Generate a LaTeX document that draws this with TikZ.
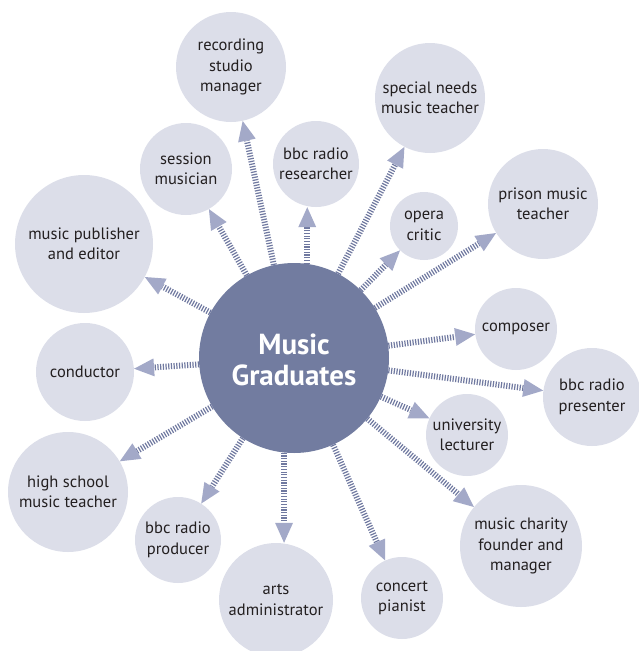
\documentclass[tikz,border=0pt]{standalone}
\usepackage{fontspec}
\setmainfont{PT Sans}
\usetikzlibrary{arrows.meta}

\definecolor{hubcol}{HTML}{727CA0}
\definecolor{bubble}{HTML}{DCDEE9}
\definecolor{stripe}{HTML}{7079A0}
\definecolor{tipcol}{HTML}{A3A9C8}
\definecolor{ink}{HTML}{231F20}

\begin{document}
\begin{tikzpicture}[x=1pt,y=-1pt,
	main node/.style={circle,fill=hubcol,minimum size=190pt,inner sep=0pt,align=center,text=white,font=\bfseries\fontsize{29}{31}\selectfont},
	job node/.style={circle,fill=bubble,minimum size=#1,inner sep=0pt,align=center,text=ink,font=\fontsize{16.5}{20.5}\selectfont},
	link/.style={draw=stripe,line width=6pt,dash pattern=on 1.2pt off 1.5pt,-{Triangle[length=20pt,width=18pt,line width=0pt,color=tipcol]}}]
		
		\useasboundingbox (0,0) rectangle (638,651);
		
		\node[main node] (grad) at (294,358) {\raisebox{-12pt}[0pt][0pt]{\begin{tabular}{@{}c@{}}Music\\Graduates\end{tabular}}};
		
		\node[job node=110pt] (rec) at (231,67) {recording\\studio\\manager};
		\node[job node=92pt] (sess) at (186,169) {session\\musician};
		\node[job node=86pt] (res) at (316,164) {bbc radio\\researcher};
		\node[job node=138pt] (pub) at (84,244) {music publisher\\and editor};
		\node[job node=110pt] (spec) at (430,98) {special needs\\music teacher};
		\node[job node=68pt] (opera) at (424,226) {opera\\critic};
		\node[job node=110pt] (prison) at (543,204) {prison music\\teacher};
		\node[job node=82pt] (comp) at (516,329) {composer};
		\node[job node=98pt] (pres) at (592,397) {bbc radio\\presenter};
		\node[job node=82pt] (uni) at (467,435) {university\\lecturer};
		\node[job node=122pt] (charity) at (521,546) {music charity\\founder and\\manager};
		\node[job node=82pt] (pianist) at (402,598) {concert\\pianist};
		\node[job node=114pt] (arts) at (276,600) {arts\\administrator};
		\node[job node=86pt] (prod) at (178,540) {bbc radio\\producer};
		\node[job node=120pt] (school) at (68,492) {high school\\music teacher};
		\node[job node=98pt] (cond) at (85,372) {conductor};
		
		\path (grad) edge[link] (rec);
		\path (grad) edge[link] (sess);
		\path (grad.82) edge[link] (res.south -| grad.82);
		\path (grad) edge[link] (pub);
		\path (grad) edge[link] (spec);
		\path (grad) edge[link] (opera);
		\path (grad) edge[link] (prison);
		\path (grad) edge[link] (comp);
		\path (grad) edge[link] (pres);
		\path (grad) edge[link] (uni);
		\path (grad) edge[link] (charity);
		\path (grad) edge[link] (pianist);
		\path (grad.-96) edge[link] (arts.north -| grad.-96);
		\path (grad) edge[link] (prod);
		\path (grad) edge[link] (school);
		\path (grad) edge[link] (cond);
		
\end{tikzpicture}
\end{document}
